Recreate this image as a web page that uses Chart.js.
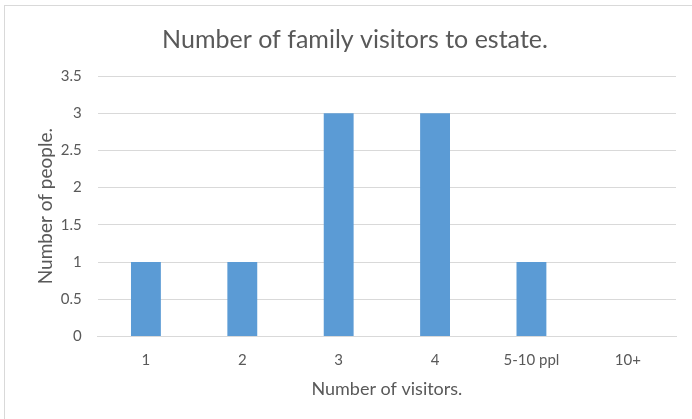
<!DOCTYPE html>
<html lang="en">
<head>
    <meta charset="utf-8" />
    <title>Number of family visitors to estate.</title>
    <script src="https://cdn.jsdelivr.net/npm/chart.js"></script>
    <style>
        html, body { margin: 0; padding: 0; background: #ffffff; overflow: hidden; }
        .moldura { position: relative; width: 692px; height: 419px; }
        .borda {
            position: absolute; left: 4px; top: 5px; width: 700px; height: 430px;
            border: 1.5px solid #d9d9d9; box-sizing: border-box; pointer-events: none;
        }
        canvas { position: absolute; left: 0; top: 0; }
    </style>
</head>
<body>
    <div class="moldura">
        <canvas id="grafico_visitantes" width="692" height="419"></canvas>
        <div class="borda"></div>
    </div>

<script>
    // Dados
    const categorias = ["1", "2", "3", "4", "5-10 ppl", "10+"];
    const pessoas = [1, 1, 3, 3, 1, 0];

    const corTexto = "#595959";
    const corGrade = "#d9d9d9";
    const fonte = "Lato, 'Open Sans', sans-serif";

    const ctx = document.getElementById("grafico_visitantes").getContext("2d");

    new Chart(ctx, {
        type: "bar",
        data: {
            labels: categorias,
            datasets: [{
                label: "Number of people.",
                backgroundColor: "#5b9bd5",
                data: pessoas,
                categoryPercentage: 1,
                barPercentage: 0.31,
            }],
        },
        options: {
            responsive: false,
            animation: false,
            layout: { padding: { left: 34, right: 16, top: 25, bottom: 19 } },
            plugins: {
                legend: { display: false },
                tooltip: { enabled: false },
                title: {
                    display: true,
                    text: "Number of family visitors to estate.",
                    color: corTexto,
                    font: { family: fonte, size: 25, weight: "normal" },
                    padding: { top: 0, bottom: 21 },
                },
            },
            scales: {
                x: {
                    grid: { display: false, drawTicks: false },
                    border: { color: corGrade, width: 1 },
                    ticks: { color: corTexto, font: { family: fonte, size: 15 }, padding: 15, maxRotation: 0, minRotation: 0 },
                    title: {
                        display: true,
                        text: "Number of visitors.",
                        color: corTexto,
                        font: { family: fonte, size: 18 },
                        padding: { top: -6, bottom: 0 },
                    },
                },
                y: {
                    min: 0,
                    max: 3.5,
                    grid: { color: corGrade, drawTicks: false },
                    border: { display: false },
                    ticks: {
                        stepSize: 0.5, color: corTexto, font: { family: fonte, size: 15 }, padding: 16,
                        callback: (valor) => String(valor)
                    },
                    title: {
                        display: true,
                        text: "Number of people.",
                        color: corTexto,
                        font: { family: fonte, size: 19 },
                        padding: { top: 0, bottom: -12 },
                    },
                },
            },
        },
    });
</script>
</body>
</html>
